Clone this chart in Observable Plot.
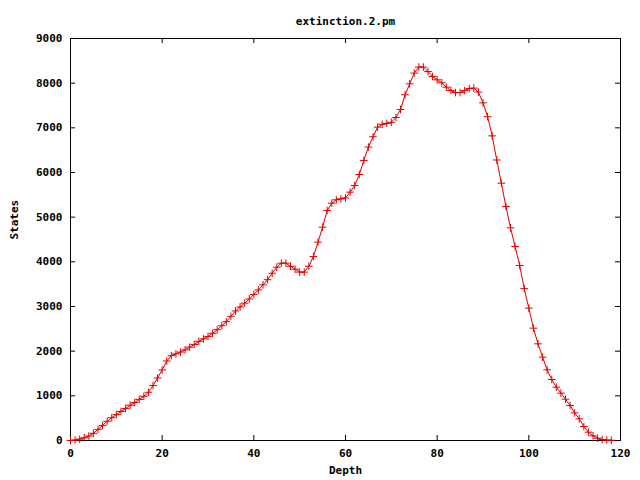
<!DOCTYPE html>
<html><head><meta charset="utf-8">
<script src="https://cdn.jsdelivr.net/npm/d3@7"></script>
<script src="https://cdn.jsdelivr.net/npm/@observablehq/plot@0.6"></script>
<style>body{margin:0;background:#fff}</style>
</head><body><div id="chart"></div>
<script>
const title = "extinction.2.pm";
const xLabel = "Depth";
const yLabel = "States";
const xTicks = [0, 20, 40, 60, 80, 100, 120];
const yTicks = [0, 1000, 2000, 3000, 4000, 5000, 6000, 7000, 8000, 9000];
const depth = d3.range(0, 119);
const states = [
  0, 10, 30, 60, 100, 160, 250, 335, 430, 510,
  580, 650, 715, 790, 850, 920, 990, 1080, 1230, 1400,
  1580, 1780, 1900, 1940, 1980, 2030, 2090, 2150, 2220, 2276,
  2330, 2400, 2480, 2570, 2660, 2780, 2900, 2990, 3075, 3170,
  3270, 3370, 3485, 3600, 3745, 3880, 3970, 3970, 3900, 3835,
  3770, 3770, 3900, 4120, 4440, 4776, 5150, 5313, 5390, 5410,
  5430, 5560, 5710, 5955, 6270, 6570, 6800, 7015, 7080, 7100,
  7125, 7230, 7410, 7740, 7985, 8225, 8360, 8360, 8260, 8150,
  8075, 8010, 7910, 7835, 7790, 7790, 7835, 7880, 7890, 7800,
  7560, 7250, 6820, 6280, 5761, 5239, 4761, 4343, 3918, 3400,
  2963, 2515, 2164, 1866, 1582, 1366, 1194, 1060, 925, 784,
  619, 485, 313, 187, 104, 52, 22, 10, 5
];
const data = depth.map((d, i) => ({depth: d, states: states[i]}));

const plusSym = {
  draw(ctx, size) {
    const r = Math.sqrt(size / Math.PI);
    ctx.moveTo(-r, 0); ctx.lineTo(r, 0);
    ctx.moveTo(0, -r); ctx.lineTo(0, r);
  }
};

const W = 640, H = 480, mt = 38, mr = 20, mb = 40, ml = 70;
const ph = H - mt - mb, pw = W - ml - mr;
const tl = 5;

const chart = Plot.plot({
  width: W, height: H,
  marginTop: mt, marginRight: mr, marginBottom: mb, marginLeft: ml,
  style: {fontFamily: "'DejaVu Sans Mono', monospace", fontSize: "11px", fontWeight: "bold", color: "black", background: "white"},
  x: {domain: [0, 120]},
  y: {domain: [0, 9000]},
  marks: [
    Plot.tickX(xTicks, {x: d => d, stroke: "black", insetTop: ph - tl}),
    Plot.tickX(xTicks, {x: d => d, stroke: "black", insetBottom: ph - tl}),
    Plot.tickY(yTicks, {y: d => d, stroke: "black", insetRight: pw - tl}),
    Plot.tickY(yTicks, {y: d => d, stroke: "black", insetLeft: pw - tl}),
    Plot.axisX({ticks: xTicks, tickSize: 0, tickPadding: 9, tickFormat: d => String(d), label: null}),
    Plot.axisY({ticks: yTicks, tickSize: 0, tickPadding: 8, tickFormat: d => String(d), label: null}),
    Plot.frame({stroke: "black"}),
    Plot.line(data, {x: "depth", y: "states", stroke: "#e00000", strokeWidth: 1}),
    Plot.dot(data, {x: "depth", y: "states", symbol: plusSym, r: 3.8, stroke: "#e00000", strokeWidth: 1, fill: "none"}),
    Plot.text([title], {text: d => d, frameAnchor: "top", dy: -21}),
    Plot.text([xLabel], {text: d => d, frameAnchor: "bottom", dy: 33}),
    Plot.text([yLabel], {text: d => d, frameAnchor: "left", dx: -56, rotate: -90})
  ]
});
document.getElementById("chart").appendChild(chart);
</script>
</body></html>
